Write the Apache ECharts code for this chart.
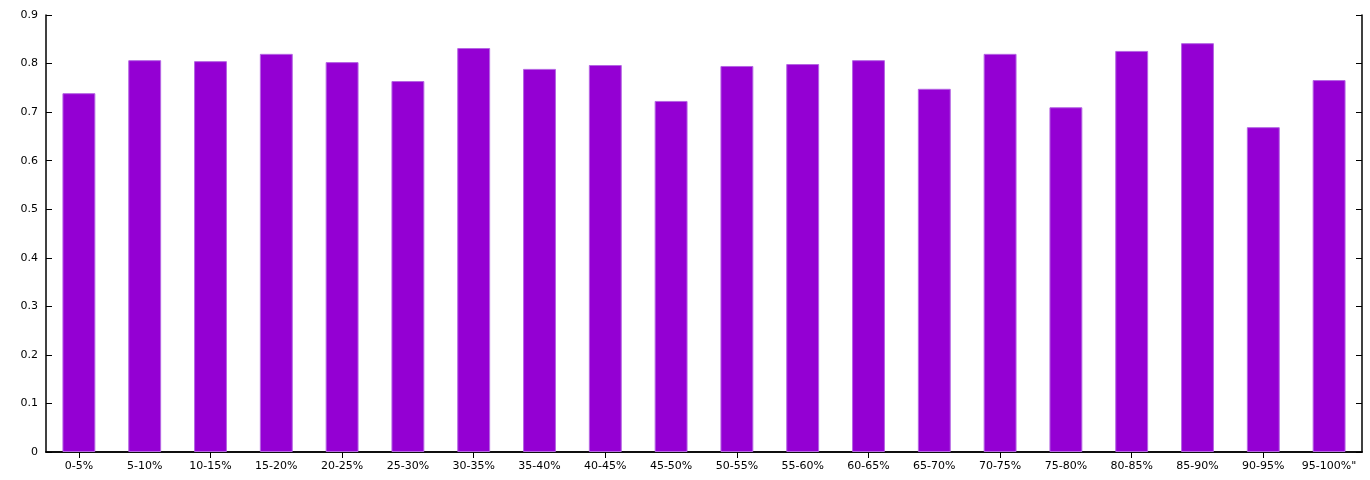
<!DOCTYPE html>
<html>
<head>
<meta charset="utf-8">
<script src="https://cdn.jsdelivr.net/npm/echarts@6/dist/echarts.min.js"></script>
<style>html,body{margin:0;padding:0;background:#fff}#chart{width:1370px;height:480px}</style>
</head>
<body>
<div id="chart"></div>
<script>
var categories = ['0-5%','5-10%','10-15%','15-20%','20-25%','25-30%','30-35%','35-40%','40-45%','45-50%',
  '50-55%','55-60%','60-65%','65-70%','70-75%','75-80%','80-85%','85-90%','90-95%','95-100%"'];
var values = [0.739,0.807,0.805,0.820,0.803,0.764,0.832,0.789,0.797,0.723,
  0.795,0.799,0.807,0.748,0.820,0.710,0.826,0.842,0.669,0.766];

var chart = echarts.init(document.getElementById('chart'));
var font = 'DejaVu Sans';
var axisLine = {show: true, lineStyle: {color: '#000', width: 1.5}};
chart.setOption({
  animation: false,
  grid: {left: 46, right: 8, top: 15, bottom: 28},
  xAxis: [{
    type: 'category', data: categories, position: 'bottom',
    axisLine: axisLine,
    axisTick: {show: true, inside: true, alignWithLabel: true, length: 6, lineStyle: {color: '#000'}},
    axisLabel: {color: '#000', fontFamily: font, fontSize: 11, margin: 9, interval: 0}
  }, {
    type: 'category', data: categories, position: 'top',
    axisLine: axisLine,
    axisTick: {show: true, inside: true, alignWithLabel: true, length: 6, lineStyle: {color: '#000'}},
    axisLabel: {show: false}
  }],
  yAxis: [{
    type: 'value', min: 0, max: 0.9, interval: 0.1, position: 'left',
    axisLine: axisLine,
    axisTick: {show: true, inside: true, length: 6, lineStyle: {color: '#000'}},
    splitLine: {show: false},
    axisLabel: {color: '#000', fontFamily: font, fontSize: 11, margin: 8,
      formatter: function (v) { return v === 0 ? '0' : +v.toFixed(1) + ''; }}
  }, {
    type: 'value', min: 0, max: 0.9, interval: 0.1, position: 'right',
    axisLine: axisLine,
    axisTick: {show: true, inside: true, length: 6, lineStyle: {color: '#000'}},
    splitLine: {show: false},
    axisLabel: {show: false}
  }],
  series: [{
    type: 'bar', data: values, barWidth: '50%',
    itemStyle: {color: '#9400d3', borderColor: '#b565e3', borderWidth: 1}
  }]
});
</script>
</body>
</html>
